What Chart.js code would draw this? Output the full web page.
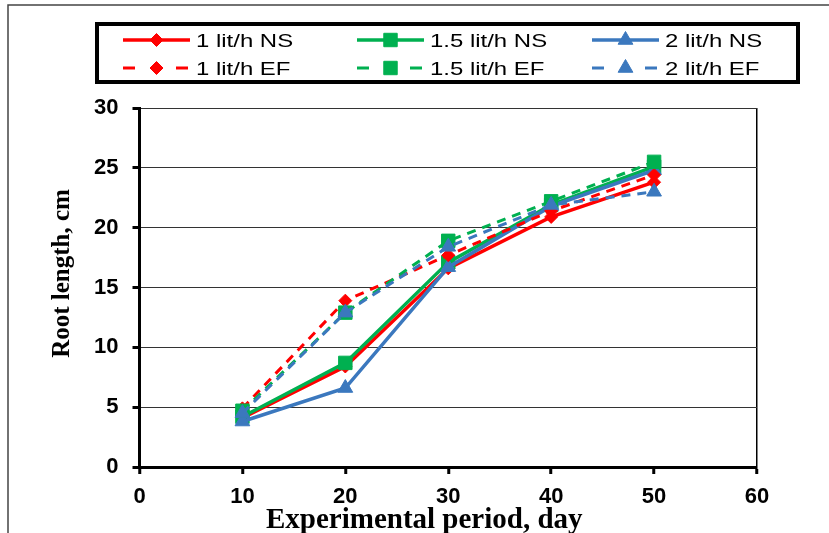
<!DOCTYPE html>
<html>
<head>
<meta charset="utf-8">
<script src="https://cdn.jsdelivr.net/npm/chart.js@4/dist/chart.umd.min.js"></script>
<style>
  html, body { margin: 0; padding: 0; background: #fff; }
  #wrap { width: 829px; height: 533px; position: relative; }
</style>
</head>
<body>
<div id="wrap"><canvas id="c" width="829" height="533"></canvas></div>
<script>
// ---- data ----
const days = [10, 20, 30, 40, 50];
const ns1  = [4.1, 8.4, 16.6, 20.9, 23.8];
const ns15 = [4.2, 8.7, 17.1, 21.9, 25.1];
const ns2  = [3.8, 6.6, 16.7, 21.8, 24.8];
const ef1  = [4.9, 13.9, 17.7, 21.4, 24.4];
const ef15 = [4.7, 12.9, 18.9, 22.2, 25.5];
const ef2  = [4.5, 12.9, 18.4, 21.9, 23.0];
const seriesNames = ['1 lit/h NS', '1.5 lit/h NS', '2 lit/h NS', '1 lit/h EF', '1.5 lit/h EF', '2 lit/h EF'];
const xTicks = [0, 10, 20, 30, 40, 50, 60];
const yTicks = [0, 5, 10, 15, 20, 25, 30];
const xTitle = 'Experimental period, day';
const yTitle = 'Root length, cm';

const RED = '#FF0000', GREEN = '#00B050', BLUE = '#3B78BE';

function pts(vals) { return days.map((d, i) => ({ x: d, y: vals[i] })); }

function ds(label, vals, color, style, radius, dashed, order) {
  return {
    label, data: pts(vals), borderColor: color, backgroundColor: color,
    borderWidth: dashed ? 3 : 3.5, borderDash: dashed ? [9, 7] : [],
    pointStyle: style, pointRadius: radius, pointHoverRadius: radius,
    pointBorderWidth: 1, pointBorderColor: color, pointBackgroundColor: color,
    tension: 0, fill: false, order
  };
}

const datasets = [
  ds(seriesNames[0], ns1,  RED,   'rectRot',  6.5, false, 6),
  ds(seriesNames[1], ns15, GREEN, 'rect',     9.5, false, 5),
  ds(seriesNames[2], ns2,  BLUE,  'triangle', 8.5, false, 4),
  ds(seriesNames[3], ef1,  RED,   'rectRot',  6.5, true, 3),
  ds(seriesNames[4], ef15, GREEN, 'rect',     9.5, true, 2),
  ds(seriesNames[5], ef2,  BLUE,  'triangle', 8.5, true, 1)
];

function drawMarker(ctx, style, r, x, y, color) {
  ctx.save();
  ctx.fillStyle = color; ctx.strokeStyle = color; ctx.lineWidth = 1; ctx.setLineDash([]);
  ctx.beginPath();
  if (style === 'rect') {
    const s = Math.SQRT1_2 * r;
    ctx.rect(x - s, y - s, 2 * s, 2 * s);
  } else if (style === 'rectRot') {
    ctx.moveTo(x, y - r); ctx.lineTo(x + r, y); ctx.lineTo(x, y + r); ctx.lineTo(x - r, y); ctx.closePath();
  } else {
    for (let k = 0; k < 3; k++) {
      const a = k * 2 * Math.PI / 3;
      const px = x + Math.sin(a) * r, py = y - Math.cos(a) * r;
      if (k === 0) ctx.moveTo(px, py); else ctx.lineTo(px, py);
    }
    ctx.closePath();
  }
  ctx.fill(); ctx.stroke();
  ctx.restore();
}

const framePlugin = {
  id: 'frame',
  beforeDraw(chart) {
    const ctx = chart.ctx;
    ctx.save();
    ctx.fillStyle = '#fff';
    ctx.fillRect(0, 0, chart.width, chart.height);
    ctx.strokeStyle = '#444'; ctx.lineWidth = 1.5;
    ctx.beginPath();
    ctx.moveTo(8, chart.height); ctx.lineTo(8, 5); ctx.lineTo(chart.width, 5);
    ctx.stroke();
    ctx.restore();
  },
  afterDraw(chart) {
    const ctx = chart.ctx;
    const ca = chart.chartArea;
    ctx.save();
    // axis titles
    ctx.fillStyle = '#000';
    ctx.font = 'bold 29px "Liberation Serif", "Times New Roman", serif';
    ctx.textAlign = 'center'; ctx.textBaseline = 'alphabetic';
    ctx.fillText(xTitle, (ca.left + ca.right) / 2 - 24, 528);
    ctx.save();
    ctx.translate(69, (ca.top + ca.bottom) / 2 - 14);
    ctx.rotate(-Math.PI / 2);
    ctx.font = 'bold 25px "Liberation Serif", "Times New Roman", serif';
    ctx.fillText(yTitle, 0, 0);
    ctx.restore();

    // legend box
    ctx.strokeStyle = '#000'; ctx.lineWidth = 4; ctx.setLineDash([]);
    ctx.strokeRect(97, 24, 701, 58);
    const colX = [123, 357, 592];
    const rowY = [40, 68];
    chart.data.datasets.forEach((d, i) => {
      const col = i % 3, row = Math.floor(i / 3);
      const x0 = colX[col], x1 = x0 + 67, y = rowY[row];
      ctx.save();
      ctx.strokeStyle = d.borderColor; ctx.lineWidth = d.borderWidth;
      ctx.beginPath();
      if (row === 0) {
        ctx.moveTo(x0, y); ctx.lineTo(x1, y);
      } else {
        ctx.moveTo(x0, y); ctx.lineTo(x0 + 12, y);
        ctx.moveTo(x1 - 14, y); ctx.lineTo(x1 - 2, y);
      }
      ctx.stroke();
      ctx.restore();
      drawMarker(ctx, d.pointStyle, d.pointRadius, (x0 + x1) / 2, y, d.borderColor);
      ctx.save();
      ctx.fillStyle = '#000';
      ctx.font = '18px "Liberation Sans", Arial, sans-serif';
      ctx.textAlign = 'left'; ctx.textBaseline = 'alphabetic';
      ctx.translate(x1 + 6, y + 7);
      ctx.scale(1.33, 1);
      ctx.fillText(d.label, 0, 0);
      ctx.restore();
    });
    ctx.restore();
  }
};

new Chart(document.getElementById('c'), {
  type: 'line',
  data: { datasets },
  options: {
    responsive: false,
    animation: false,
    devicePixelRatio: 1,
    layout: { padding: { left: 0, right: 72, top: 108, bottom: 0 } },
    plugins: { legend: { display: false }, tooltip: { enabled: false }, title: { display: false } },
    scales: {
      x: {
        type: 'linear', min: 0, max: 60,
        afterFit: (s) => { s.height = 66; },
        afterBuildTicks: (s) => { s.ticks = xTicks.map(v => ({ value: v })); },
        ticks: { stepSize: 10, padding: 10, color: '#000',
          font: { family: '"Liberation Sans", Arial, sans-serif', size: 22, weight: 'bold' } },
        grid: {
          display: true, drawOnChartArea: true,
          color: (c) => (c.tick && c.tick.value === 60) ? '#000' : 'rgba(0,0,0,0)',
          lineWidth: 1.5,
          tickColor: '#000', tickLength: 7, tickWidth: 3
        },
        border: { display: true, color: '#000', width: 3 }
      },
      y: {
        type: 'linear', min: 0, max: 30,
        afterFit: (s) => { s.width = 139.5; },
        afterBuildTicks: (s) => { s.ticks = yTicks.map(v => ({ value: v })); },
        ticks: { stepSize: 5, padding: 14, color: '#000',
          font: { family: '"Liberation Sans", Arial, sans-serif', size: 22, weight: 'bold' } },
        grid: { color: '#333', lineWidth: 1, tickColor: '#000', tickLength: 7, tickWidth: 3 },
        border: { display: true, color: '#000', width: 3 }
      }
    }
  },
  plugins: [framePlugin]
});
</script>
</body>
</html>
